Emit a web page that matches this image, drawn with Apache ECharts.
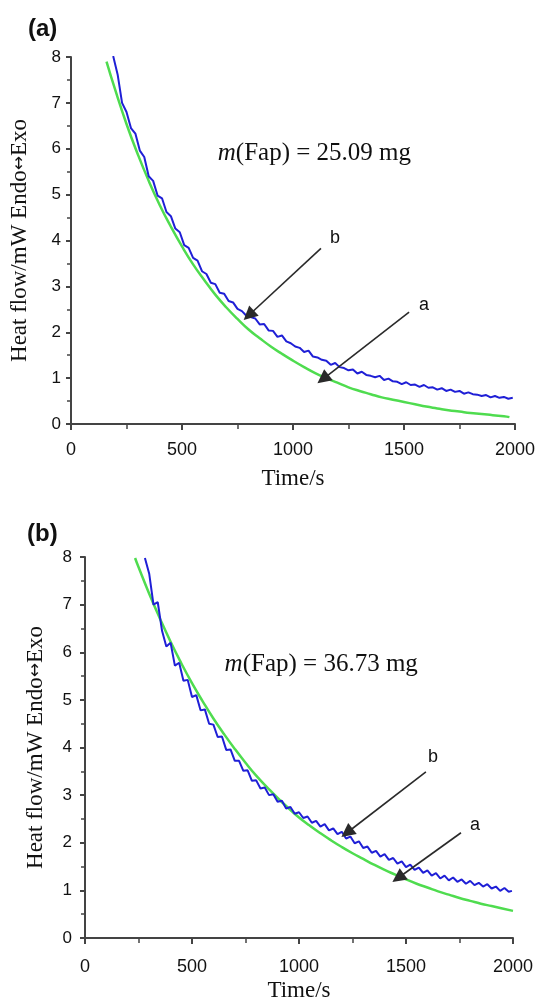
<!DOCTYPE html>
<html><head><meta charset="utf-8">
<script src="https://cdn.jsdelivr.net/npm/echarts@6/dist/echarts.min.js"></script>
<style>html,body{margin:0;padding:0;background:#fff}#c{width:538px;height:1007px}</style>
</head><body><div id="c"></div>
<script>
// ---------- Data ----------
const panelLabels = ['(a)', '(b)'];
const massLabels = ['25.09 mg', '36.73 mg'];
const xTicks = [0, 500, 1000, 1500, 2000];
const yTicks = [0, 1, 2, 3, 4, 5, 6, 7, 8];

// Panel (a) - curve a (green)
const topGreenT = [160,200,250,300,350,400,450,500,550,600,650,700,750,800,850,900,950,1000,1050,1100,1150,1200,1250,1300,1350,1400,1450,1500,1550,1600,1650,1700,1750,1800,1850,1900,1950,1975];
const topGreenY = [7.90,7.27,6.54,5.89,5.30,4.77,4.30,3.87,3.48,3.14,2.82,2.54,2.29,2.06,1.87,1.69,1.53,1.38,1.24,1.11,1.00,0.90,0.80,0.72,0.65,0.58,0.53,0.48,0.43,0.38,0.34,0.30,0.27,0.24,0.22,0.19,0.17,0.15];
// Panel (a) - curve b (blue)
const topBlueT = [190,210,230,250,270,290,310,330,350,370,390,410,430,450,470,490,510,530,550,570,590,610,630,650,670,690,710,730,750,770,790,810,830,850,870,890,910,930,950,970,990,1010,1030,1050,1070,1090,1110,1130,1150,1170,1190,1210,1230,1250,1270,1290,1310,1330,1350,1370,1390,1410,1430,1450,1470,1490,1510,1530,1550,1570,1590,1610,1630,1650,1670,1690,1710,1730,1750,1770,1790,1810,1830,1850,1870,1890,1910,1930,1950,1970,1990];
const topBlueY = [8.02,7.62,7.00,6.80,6.45,6.33,5.96,5.82,5.40,5.30,4.98,4.92,4.62,4.53,4.26,4.18,3.90,3.84,3.62,3.56,3.33,3.27,3.08,3.05,2.86,2.84,2.68,2.65,2.51,2.46,2.36,2.33,2.30,2.17,2.18,2.04,2.03,1.90,1.93,1.80,1.76,1.69,1.66,1.57,1.60,1.47,1.45,1.40,1.38,1.29,1.33,1.24,1.22,1.17,1.19,1.10,1.14,1.07,1.05,1.02,1.05,0.96,0.99,0.93,0.92,0.87,0.91,0.85,0.86,0.81,0.85,0.79,0.80,0.75,0.78,0.72,0.75,0.70,0.72,0.66,0.69,0.65,0.64,0.61,0.63,0.58,0.61,0.57,0.59,0.55,0.57];

// Panel (b) - curve a (green)
const botGreenT = [234,250,300,350,400,450,500,550,600,650,700,750,800,850,900,950,1000,1050,1100,1150,1200,1250,1300,1350,1400,1450,1500,1550,1600,1650,1700,1750,1800,1850,1900,1950,2000];
const botGreenY = [7.98,7.79,7.23,6.71,6.22,5.77,5.35,4.97,4.61,4.28,3.97,3.68,3.41,3.17,2.94,2.73,2.53,2.36,2.20,2.05,1.91,1.78,1.66,1.54,1.43,1.33,1.23,1.14,1.06,0.98,0.91,0.84,0.78,0.72,0.67,0.62,0.57];
// Panel (b) - curve b (blue)
const botBlueT = [280,300,320,340,360,380,400,420,440,460,480,500,520,540,560,580,600,620,640,660,680,700,720,740,760,780,800,820,840,860,880,900,920,940,960,980,1000,1020,1040,1060,1080,1100,1120,1140,1160,1180,1200,1220,1240,1260,1280,1300,1320,1340,1360,1380,1400,1420,1440,1460,1480,1500,1520,1540,1560,1580,1600,1620,1640,1660,1680,1700,1720,1740,1760,1780,1800,1820,1840,1860,1880,1900,1920,1940,1960,1980,1995];
const botBlueY = [7.98,7.65,7.00,7.05,6.45,6.12,6.20,5.72,5.78,5.40,5.42,5.06,5.10,4.78,4.80,4.50,4.48,4.22,4.23,3.95,3.96,3.72,3.72,3.51,3.52,3.30,3.31,3.14,3.16,3.00,3.02,2.86,2.88,2.72,2.75,2.61,2.64,2.52,2.55,2.42,2.46,2.34,2.39,2.26,2.30,2.18,2.23,2.09,2.13,1.99,2.03,1.89,1.92,1.79,1.83,1.71,1.76,1.64,1.68,1.56,1.61,1.49,1.54,1.43,1.48,1.37,1.42,1.31,1.36,1.25,1.31,1.21,1.27,1.18,1.23,1.14,1.20,1.11,1.16,1.08,1.13,1.04,1.08,0.99,1.05,0.97,0.99];

// Annotation anchors (data units): [label x, label y, arrow start x, y, arrow tip x, y]
const topArrowB = [1189, 4.05, 1126, 3.83, 801, 2.37];
const topArrowA = [1590, 2.59, 1523, 2.44, 1135, 0.98];
const botArrowB = [1626, 3.80, 1593, 3.49, 1224, 2.21];
const botArrowA = [1822, 2.37, 1757, 2.21, 1463, 1.26];
const topMassPos = [659, 5.90];
const botMassPos = [650, 5.74];

// ---------- Chart ----------
const pair = (t, y) => t.map((v, i) => [v, y[i]]);
const SERIF = 'Liberation Serif, Times New Roman, serif';
const SANS = 'Liberation Sans, Arial, sans-serif';
const AXC = '#444';

function xAxisDef(g, margin, gap) {
  return {
    gridIndex: g, type: 'value', min: xTicks[0], max: xTicks[xTicks.length - 1], interval: 500,
    axisLine: { show: true, onZero: false, lineStyle: { color: AXC, width: 2 } },
    axisTick: { show: true, length: 6, lineStyle: { color: AXC, width: 2 } },
    minorTick: { show: true, splitNumber: 2, length: 5, lineStyle: { color: AXC, width: 1.5 } },
    splitLine: { show: false },
    axisLabel: { fontSize: 18, color: '#111', margin: margin, fontFamily: SANS, formatter: v => String(v) },
    name: 'Time/s', nameLocation: 'middle', nameGap: gap,
    nameTextStyle: { fontFamily: SERIF, fontSize: 23, color: '#111' }
  };
}
function yAxisDef(g, margin, gap) {
  return {
    gridIndex: g, type: 'value', min: yTicks[0], max: yTicks[yTicks.length - 1], interval: 1,
    axisLine: { show: true, lineStyle: { color: AXC, width: 2 } },
    axisTick: { show: true, length: 5, lineStyle: { color: AXC, width: 2 } },
    minorTick: { show: true, splitNumber: 2, length: 4, lineStyle: { color: AXC, width: 1.5 } },
    splitLine: { show: false },
    axisLabel: { fontSize: 17, color: '#111', margin: margin, fontFamily: SANS },
    name: 'Heat flow/mW Endo{a|\u2194}Exo', nameLocation: 'middle', nameGap: gap, nameRotate: 90,
    nameTextStyle: { fontFamily: SERIF, fontSize: 23, color: '#111',
      rich: { a: { fontFamily: 'DejaVu Sans', fontSize: 17, color: '#111' } } }
  };
}
function arrowLines(arrs) {
  return {
    silent: true, animation: false,
    symbol: ['none', 'triangle'], symbolSize: 14,
    lineStyle: { color: '#2a2a2a', width: 1.6, type: 'solid' },
    itemStyle: { color: '#111' },
    label: { show: false },
    emphasis: { disabled: true },
    data: arrs.map(a => [{ coord: [a[2], a[3]] }, { coord: [a[4], a[5]] }])
  };
}
function notes(arrs, labels, massPos, massText) {
  const d = arrs.map((a, i) => ({
    coord: [a[0], a[1]], symbol: 'rect', symbolSize: 1,
    itemStyle: { color: 'rgba(0,0,0,0)' },
    label: { show: true, position: 'inside', formatter: labels[i], fontSize: 18, fontFamily: SANS, color: '#111' }
  }));
  d.push({
    coord: massPos, symbol: 'rect', symbolSize: 1,
    itemStyle: { color: 'rgba(0,0,0,0)' },
    label: {
      show: true, position: 'right', distance: 0,
      formatter: '{i|m}(Fap) = ' + massText,
      fontSize: 25, fontFamily: SERIF, color: '#111',
      rich: { i: { fontStyle: 'italic', fontSize: 25, fontFamily: SERIF, color: '#111' } }
    }
  });
  return { silent: true, animation: false, data: d };
}

const GREEN = '#4fdc4f';
const BLUE = '#1f1fd6';

const option = {
  animation: false,
  backgroundColor: '#fff',
  title: [
    { text: panelLabels[0], left: 23, top: 12, textStyle: { fontFamily: SANS, fontWeight: 'bold', fontSize: 24, color: '#111' } },
    { text: panelLabels[1], left: 22, top: 517, textStyle: { fontFamily: SANS, fontWeight: 'bold', fontSize: 24, color: '#111' } }
  ],
  grid: [
    { left: 70, top: 57, width: 449, height: 367 },
    { left: 85, top: 557, width: 428, height: 381 }
  ],
  xAxis: [xAxisDef(0, 17, 43), xAxisDef(1, 20, 41)],
  yAxis: [yAxisDef(0, 10, 40), yAxisDef(1, 13, 38)],
  series: [
    { type: 'line', xAxisIndex: 0, yAxisIndex: 0, data: pair(topGreenT, topGreenY), smooth: true, symbol: 'none',
      lineStyle: { color: GREEN, width: 2.5 }, z: 2,
      markLine: arrowLines([topArrowB, topArrowA]),
      markPoint: notes([topArrowB, topArrowA], ['b', 'a'], topMassPos, massLabels[0]) },
    { type: 'line', xAxisIndex: 0, yAxisIndex: 0, data: pair(topBlueT, topBlueY), symbol: 'none',
      lineStyle: { color: BLUE, width: 2 }, z: 3 },
    { type: 'line', xAxisIndex: 1, yAxisIndex: 1, data: pair(botGreenT, botGreenY), smooth: true, symbol: 'none',
      lineStyle: { color: GREEN, width: 2.5 }, z: 2,
      markLine: arrowLines([botArrowB, botArrowA]),
      markPoint: notes([botArrowB, botArrowA], ['b', 'a'], botMassPos, massLabels[1]) },
    { type: 'line', xAxisIndex: 1, yAxisIndex: 1, data: pair(botBlueT, botBlueY), symbol: 'none',
      lineStyle: { color: BLUE, width: 2 }, z: 3 }
  ]
};
const chart = echarts.init(document.getElementById('c'), null, { renderer: 'canvas' });
chart.setOption(option);
</script></body></html>
